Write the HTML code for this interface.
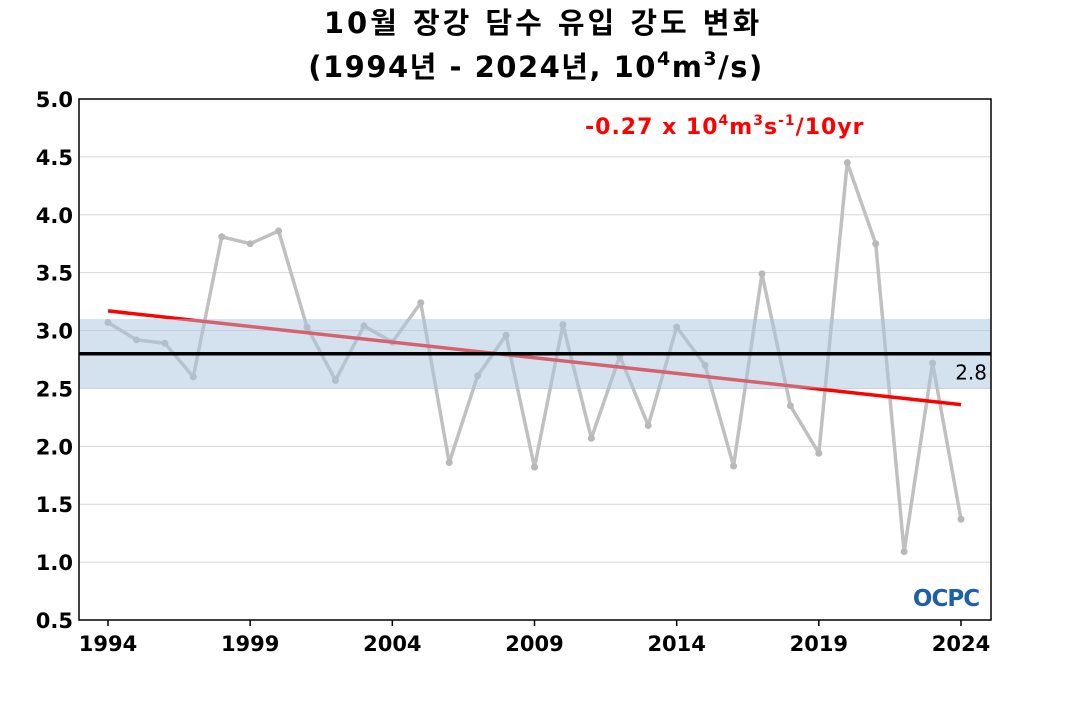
<!DOCTYPE html>
<html><head><meta charset="utf-8"><style>
body{margin:0;background:#fff;font-family:"DejaVu Sans","Noto Sans CJK KR",sans-serif}
</style></head><body>
<svg id="c" width="1070" height="700" xmlns="http://www.w3.org/2000/svg" font-family="DejaVu Sans, Noto Sans CJK KR, sans-serif">
<text x="543" y="33" text-anchor="middle" font-size="29" font-weight="bold" letter-spacing="3">10월 장강 담수 유입 강도 변화</text>
<text x="536" y="77" text-anchor="middle" font-size="29" font-weight="bold" letter-spacing="1.5">(1994년 - 2024년, 10<tspan dy="-12" font-size="19">4</tspan><tspan dy="12">m</tspan><tspan dy="-12" font-size="19">3</tspan><tspan dy="12">/s)</tspan></text>
<g id="grid"></g><g id="marks"></g><g id="over"></g>
<text x="585" y="134" font-size="22" font-weight="bold" fill="#ff0000" letter-spacing="1">-0.27 x 10<tspan dy="-9" font-size="14">4</tspan><tspan dy="9">m</tspan><tspan dy="-9" font-size="14">3</tspan><tspan dy="9">s</tspan><tspan dy="-9" font-size="14">-1</tspan><tspan dy="9">/10yr</tspan></text>
<text x="946" y="606" text-anchor="middle" font-size="23" font-weight="bold" fill="#1f5fa8" letter-spacing="-1">OCPC</text>
</svg>
<script>
const years=[1994,1995,1996,1997,1998,1999,2000,2001,2002,2003,2004,2005,2006,2007,2008,2009,2010,2011,2012,2013,2014,2015,2016,2017,2018,2019,2020,2021,2022,2023,2024];
const values=[3.07,2.92,2.89,2.60,3.81,3.75,3.86,3.03,2.57,3.04,2.90,3.24,1.86,2.61,2.96,1.82,3.05,2.07,2.78,2.18,3.03,2.70,1.83,3.49,2.35,1.94,4.45,3.75,1.09,2.72,1.37];
const yTicks=[0.5,1.0,1.5,2.0,2.5,3.0,3.5,4.0,4.5,5.0];
const xTicks=[1994,1999,2004,2009,2014,2019,2024];
const meanVal=[2.8];
const band=[2.5,3.1];
const trend=[3.17,2.36];
const NS="http://www.w3.org/2000/svg";
const L=79,R=991,T=99,B=620;
const x=v=>108+(v-1994)*(961-108)/30;
const y=v=>B-(v-0.5)*(B-T)/4.5;
function mk(p,t,a){const e=document.createElementNS(NS,t);for(const k in a)e.setAttribute(k,a[k]);document.getElementById(p).appendChild(e);return e;}
yTicks.forEach(v=>{
 const g=mk('grid','line',{x1:L,x2:R,y1:y(v),y2:y(v),stroke:'#d8d8d8','stroke-width':1});
 
 
 const t=mk('grid','text',{x:L-6,y:y(v)+8,'text-anchor':'end','font-size':21,'font-weight':'bold'});t.textContent=v.toFixed(1);
 
 
});
xTicks.forEach(v=>{
 const k=mk('grid','line',{x1:x(v),x2:x(v),y1:B,y2:B+6,stroke:'#000','stroke-width':1.5});
 
 
 const t=mk('grid','text',{x:x(v),y:B+31,'text-anchor':'middle','font-size':21,'font-weight':'bold'});t.textContent=v;
 
 
});
const pl=mk('marks','polyline',{points:years.map((yr,i)=>x(yr)+','+y(values[i])).join(' '),fill:'none',stroke:'#c0c0c0','stroke-width':3.5,'stroke-linejoin':'round'});


years.forEach((yr,i)=>{const c=mk('marks','circle',{cx:x(yr),cy:y(values[i]),r:3.5,fill:'#b8b8b8'});
 
 });
const tl=mk('marks','line',{x1:x(1994),x2:x(2024),y1:y(trend[0]),y2:y(trend[1]),stroke:'#ff0000','stroke-width':3.5});


const bd=mk('over','rect',{x:L,y:y(band[1]),width:R-L,height:y(band[0])-y(band[1]),fill:'rgba(170,196,222,0.5)'});


const ml=mk('over','line',{x1:L,x2:R,y1:y(meanVal[0]),y2:y(meanVal[0]),stroke:'#000','stroke-width':3.5});


const mt=mk('over','text',{x:987,y:y(meanVal[0])+26,'text-anchor':'end','font-size':20});mt.textContent=meanVal[0].toFixed(1);


const fr=mk('over','rect',{x:L,y:T,width:R-L,height:B-T,fill:'none',stroke:'#000','stroke-width':1.5});


</script>
</body></html>
